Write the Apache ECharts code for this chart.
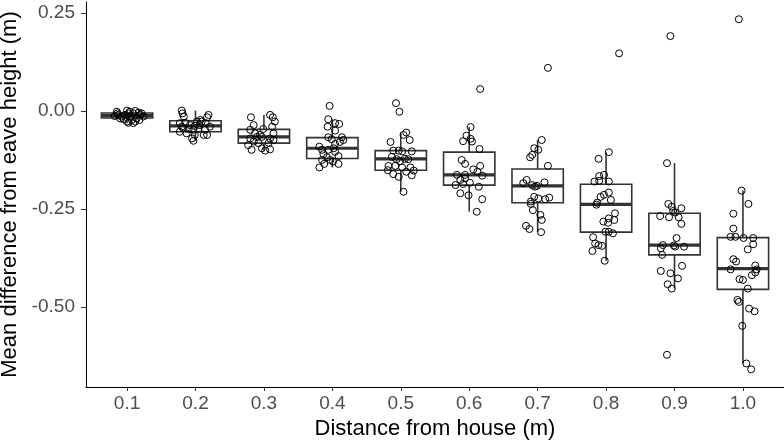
<!DOCTYPE html>
<html>
<head>
<meta charset="utf-8">
<script src="https://cdn.jsdelivr.net/npm/echarts@6/dist/echarts.min.js"></script>
<style>
  html, body { margin: 0; padding: 0; background: #fff; }
  #chart { width: 784px; height: 441px; }
</style>
</head>
<body>
<div id="chart"></div>
<script>
// distance categories (m)
const categories = ['0.1', '0.2', '0.3', '0.4', '0.5', '0.6', '0.7', '0.8', '0.9', '1.0'];
const catPos = [0.1, 0.2, 0.3, 0.4, 0.5, 0.6, 0.7, 0.8, 0.9, 1.0];
const yTicks = [-0.5, -0.25, 0, 0.25];

// box stats
const whiskerLow  = [-0.031, -0.076, -0.101, -0.144, -0.206, -0.257, -0.309, -0.382, -0.453, -0.644];
const q1          = [-0.018, -0.053, -0.082, -0.121, -0.151, -0.189, -0.234, -0.309, -0.367, -0.455];
const medians     = [-0.012, -0.038, -0.066, -0.095, -0.122, -0.163, -0.191, -0.238, -0.342, -0.402];
const q3          = [-0.005, -0.025, -0.047, -0.068, -0.101, -0.105, -0.148, -0.187, -0.261, -0.323];
const whiskerHigh = [0.001, 0.001, -0.010, -0.021, -0.055, -0.041, -0.074, -0.105, -0.133, -0.203];

// jittered points [x, y]
const pts01 = [[0.085,-0.002],[0.087,-0.010],[0.092,-0.014],[0.100,0.001],[0.102,-0.006],[0.104,-0.002],[0.109,-0.006],[0.112,0.000],[0.117,-0.004],[0.119,-0.010],[0.114,-0.019],[0.107,-0.023],[0.100,-0.027],[0.095,-0.021],[0.090,-0.019],[0.082,-0.013],[0.097,-0.010],[0.104,-0.014],[0.112,-0.027],[0.102,-0.030],[0.109,-0.031],[0.121,-0.006],[0.118,-0.023],[0.086,-0.006],[0.124,-0.014]];
const pts02 = [[0.180,0.001],[0.181,-0.006],[0.183,-0.014],[0.219,-0.010],[0.217,-0.016],[0.207,-0.023],[0.202,-0.027],[0.209,-0.027],[0.177,-0.031],[0.185,-0.030],[0.192,-0.036],[0.199,-0.038],[0.206,-0.036],[0.215,-0.031],[0.221,-0.040],[0.182,-0.044],[0.190,-0.046],[0.197,-0.048],[0.204,-0.046],[0.214,-0.048],[0.177,-0.053],[0.187,-0.057],[0.199,-0.061],[0.212,-0.061],[0.217,-0.061],[0.195,-0.070],[0.197,-0.076],[0.180,-0.040]];
const pts03 = [[0.281,-0.016],[0.309,-0.010],[0.313,-0.016],[0.316,-0.027],[0.285,-0.036],[0.312,-0.040],[0.280,-0.048],[0.299,-0.046],[0.287,-0.057],[0.294,-0.061],[0.314,-0.057],[0.280,-0.070],[0.290,-0.066],[0.297,-0.066],[0.309,-0.070],[0.285,-0.078],[0.307,-0.081],[0.314,-0.074],[0.277,-0.087],[0.282,-0.099],[0.297,-0.095],[0.302,-0.101],[0.309,-0.098],[0.292,-0.082]];
const pts04 = [[0.396,0.013],[0.394,-0.021],[0.404,-0.031],[0.410,-0.033],[0.393,-0.040],[0.404,-0.050],[0.394,-0.067],[0.399,-0.072],[0.414,-0.067],[0.416,-0.074],[0.411,-0.079],[0.404,-0.084],[0.381,-0.091],[0.385,-0.099],[0.394,-0.099],[0.402,-0.095],[0.404,-0.104],[0.387,-0.110],[0.409,-0.115],[0.392,-0.118],[0.397,-0.125],[0.385,-0.125],[0.401,-0.129],[0.388,-0.135],[0.409,-0.135],[0.381,-0.144]];
const pts05 = [[0.493,0.020],[0.498,-0.002],[0.508,-0.055],[0.504,-0.061],[0.513,-0.074],[0.485,-0.079],[0.489,-0.101],[0.497,-0.101],[0.516,-0.103],[0.502,-0.103],[0.487,-0.117],[0.494,-0.123],[0.506,-0.122],[0.511,-0.123],[0.499,-0.128],[0.482,-0.140],[0.492,-0.140],[0.502,-0.144],[0.514,-0.144],[0.481,-0.151],[0.508,-0.155],[0.519,-0.152],[0.489,-0.161],[0.497,-0.168],[0.516,-0.164],[0.504,-0.206]];
const pts06 = [[0.616,0.056],[0.602,-0.041],[0.596,-0.063],[0.602,-0.071],[0.591,-0.077],[0.604,-0.078],[0.615,-0.097],[0.589,-0.125],[0.594,-0.135],[0.606,-0.149],[0.616,-0.140],[0.612,-0.155],[0.582,-0.163],[0.594,-0.163],[0.619,-0.165],[0.594,-0.172],[0.587,-0.176],[0.601,-0.183],[0.580,-0.189],[0.591,-0.186],[0.614,-0.193],[0.587,-0.210],[0.599,-0.215],[0.619,-0.225],[0.611,-0.257]];
const pts07 = [[0.715,0.110],[0.706,-0.074],[0.695,-0.095],[0.701,-0.099],[0.692,-0.112],[0.689,-0.118],[0.715,-0.140],[0.684,-0.176],[0.679,-0.184],[0.692,-0.189],[0.696,-0.193],[0.699,-0.191],[0.710,-0.182],[0.695,-0.219],[0.701,-0.223],[0.717,-0.221],[0.711,-0.225],[0.690,-0.231],[0.690,-0.237],[0.693,-0.253],[0.704,-0.265],[0.706,-0.278],[0.683,-0.293],[0.688,-0.301],[0.705,-0.309]];
const pts08 = [[0.819,0.147],[0.804,-0.105],[0.789,-0.122],[0.790,-0.166],[0.797,-0.163],[0.783,-0.180],[0.790,-0.178],[0.804,-0.180],[0.804,-0.208],[0.797,-0.214],[0.792,-0.219],[0.807,-0.227],[0.787,-0.234],[0.786,-0.239],[0.813,-0.261],[0.804,-0.274],[0.812,-0.278],[0.796,-0.282],[0.803,-0.285],[0.799,-0.308],[0.804,-0.308],[0.810,-0.312],[0.781,-0.322],[0.784,-0.338],[0.789,-0.342],[0.794,-0.344],[0.780,-0.357],[0.798,-0.382]];
const pts09 = [[0.894,0.191],[0.889,-0.133],[0.891,-0.237],[0.896,-0.244],[0.901,-0.259],[0.910,-0.248],[0.879,-0.268],[0.892,-0.271],[0.906,-0.271],[0.910,-0.288],[0.903,-0.324],[0.883,-0.342],[0.901,-0.346],[0.914,-0.346],[0.880,-0.350],[0.882,-0.367],[0.911,-0.395],[0.880,-0.408],[0.894,-0.414],[0.905,-0.427],[0.890,-0.442],[0.896,-0.453],[0.889,-0.622],[0.898,-0.255],[0.899,-0.343]];
const pts10 = [[0.994,0.234],[0.998,-0.203],[1.008,-0.237],[0.986,-0.262],[0.986,-0.300],[0.982,-0.321],[0.989,-0.321],[1.001,-0.324],[1.015,-0.324],[1.015,-0.340],[1.007,-0.353],[0.986,-0.378],[0.990,-0.384],[1.018,-0.394],[0.982,-0.404],[1.020,-0.404],[1.018,-0.412],[1.013,-0.419],[0.995,-0.429],[1.000,-0.431],[1.007,-0.453],[0.992,-0.482],[0.994,-0.487],[1.009,-0.504],[1.017,-0.511],[0.999,-0.548],[1.005,-0.644],[1.012,-0.659]];

const allPoints = [].concat(pts01, pts02, pts03, pts04, pts05, pts06, pts07, pts08, pts09, pts10);
const boxData = catPos.map((x, i) => [x, whiskerLow[i], q1[i], medians[i], q3[i], whiskerHigh[i]]);

const BOX_WIDTH = 0.075;
const INK = '#333333';
const FONT = 'Liberation Sans, Arial, sans-serif';

function renderBox(params, api) {
    const x = api.value(0);
    const lo = api.coord([x, api.value(1)]);
    const b1 = api.coord([x, api.value(2)]);
    const md = api.coord([x, api.value(3)]);
    const b3 = api.coord([x, api.value(4)]);
    const hi = api.coord([x, api.value(5)]);
    const half = api.size([BOX_WIDTH, 0])[0] / 2;
    const stroke = { stroke: INK, lineWidth: 1.6 };
    return {
        type: 'group',
        children: [
            { type: 'line', shape: { x1: lo[0], y1: lo[1], x2: b1[0], y2: b1[1] }, style: stroke },
            { type: 'line', shape: { x1: b3[0], y1: b3[1], x2: hi[0], y2: hi[1] }, style: stroke },
            { type: 'rect', shape: { x: b3[0] - half, y: b3[1], width: half * 2, height: b1[1] - b3[1] },
              style: { fill: '#fff', stroke: INK, lineWidth: 1.6 } },
            { type: 'line', shape: { x1: md[0] - half, y1: md[1], x2: md[0] + half, y2: md[1] },
              style: { stroke: INK, lineWidth: 3.2 } }
        ]
    };
}

const chart = echarts.init(document.getElementById('chart'));

chart.setOption({
    animation: false,
    backgroundColor: '#fff',
    grid: { left: 86, right: 0, top: 2, bottom: 54, outerBoundsMode: 'none', containLabel: false },
    xAxis: {
        type: 'value',
        min: 0.04,
        max: 1.06,
        name: 'Distance from house (m)',
        nameLocation: 'middle',
        nameGap: 26,
        nameTextStyle: { fontFamily: FONT, fontSize: 22, color: '#000' },
        axisLine: { show: true, onZero: false, lineStyle: { color: '#000', width: 1 } },
        axisTick: { show: true, length: 4, customValues: catPos, lineStyle: { color: INK } },
        axisLabel: {
            customValues: catPos,
            formatter: v => categories[catPos.findIndex(c => Math.abs(c - v) < 1e-6)],
            fontFamily: FONT, fontSize: 19, color: '#4d4d4d', margin: 7
        },
        splitLine: { show: false }
    },
    yAxis: {
        type: 'value',
        min: -0.704,
        max: 0.278,
        name: 'Mean difference from eave height (m)',
        nameLocation: 'middle',
        nameGap: 63,
        nameTextStyle: { fontFamily: FONT, fontSize: 22, color: '#000' },
        axisLine: { show: true, onZero: false, lineStyle: { color: '#000', width: 1 } },
        axisTick: { show: true, length: 5, customValues: yTicks, lineStyle: { color: INK } },
        axisLabel: {
            customValues: yTicks,
            formatter: v => v.toFixed(2),
            fontFamily: FONT, fontSize: 19, color: '#4d4d4d', margin: 11
        },
        splitLine: { show: false }
    },
    series: [
        {
            type: 'custom',
            renderItem: renderBox,
            encode: { x: 0, y: [1, 2, 3, 4, 5] },
            data: boxData,
            z: 2
        },
        {
            type: 'scatter',
            data: allPoints,
            symbol: 'circle',
            symbolSize: 7,
            itemStyle: { color: 'rgba(0,0,0,0)', borderColor: '#000', borderWidth: 1, opacity: 1 },
            z: 3
        }
    ]
});
</script>
</body>
</html>
